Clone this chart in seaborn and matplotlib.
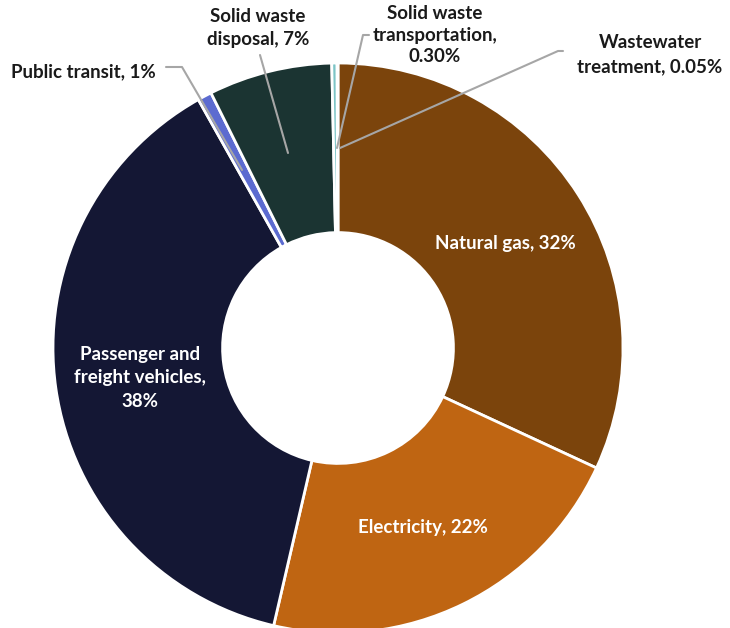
import matplotlib
matplotlib.use("Agg")
import matplotlib.pyplot as plt
import seaborn as sns

categories = ["Natural gas", "Electricity", "Passenger and\nfreight vehicles",
              "Public transit", "Solid waste\ndisposal", "Solid waste\ntransportation",
              "Wastewater\ntreatment"]
values = [31.9, 21.7, 38.2, 0.8, 7.0, 0.30, 0.05]
pct_labels = ["32%", "22%", "38%", "1%", "7%", "0.30%", "0.05%"]
colors = ["#7B440C", "#BF6512", "#141734", "#5C6BD0", "#1B3432", "#7CC4C6", "#C8E6E6"]

sns.set_theme(style="white")
plt.rcParams['font.family'] = ['Lato', 'DejaVu Sans']

W, H = 730, 628
fig = plt.figure(figsize=(7.30, 6.28), dpi=100)
ax = fig.add_axes([0, 0, 1, 1])

cx, cy, R = 338, H - 348, 285
wedges, _ = ax.pie(values, colors=colors, startangle=90, counterclock=False,
                   center=(cx, cy), radius=R, frame=True,
                   wedgeprops=dict(width=R * 0.595, edgecolor="white", linewidth=2))
ax.set_xlim(0, W)
ax.set_ylim(0, H)
ax.set_aspect("equal")
ax.axis("off")

def Y(y):
    return H - y

fs = 13.5
# inside labels (white)
ax.text(505, Y(243), f"{categories[0]}, {pct_labels[0]}", color="white", fontsize=fs,
        fontweight="bold", ha="center", va="center")
ax.text(423, Y(528), f"{categories[1]}, {pct_labels[1]}", color="white", fontsize=fs,
        fontweight="bold", ha="center", va="center")
ax.text(140, Y(378), "Passenger and\nfreight vehicles,\n" + pct_labels[2], color="white",
        fontsize=fs, fontweight="bold", ha="center", va="center", linespacing=1.44)

tc = "#1a1a1a"
lc = "#A6A6A6"
# outside labels with leaders
ax.text(83, Y(72), f"{categories[3]}, {pct_labels[3]}", color=tc, fontsize=fs,
        fontweight="bold", ha="center", va="center")
ax.plot([166, 182, 242], [Y(67), Y(67), Y(170)], color=lc, lw=1.5)

ax.text(258, Y(28), "Solid waste\ndisposal, " + pct_labels[4], color=tc, fontsize=fs,
        fontweight="bold", ha="center", va="center", linespacing=1.4)
ax.plot([260, 288], [Y(55), Y(153)], color=lc, lw=1.5)

ax.text(435, Y(35), "Solid waste\ntransportation,\n" + pct_labels[5], color=tc, fontsize=fs,
        fontweight="bold", ha="center", va="center", linespacing=1.32)
ax.plot([369, 363, 337], [Y(35), Y(35), Y(148)], color=lc, lw=1.5)

ax.text(650, Y(55), "Wastewater\ntreatment, " + pct_labels[6], color=tc, fontsize=fs,
        fontweight="bold", ha="center", va="center", linespacing=1.5)
ax.plot([563, 558, 340], [Y(51), Y(51), Y(148)], color=lc, lw=1.5)

fig.savefig("out.png", dpi=100, facecolor="white")
